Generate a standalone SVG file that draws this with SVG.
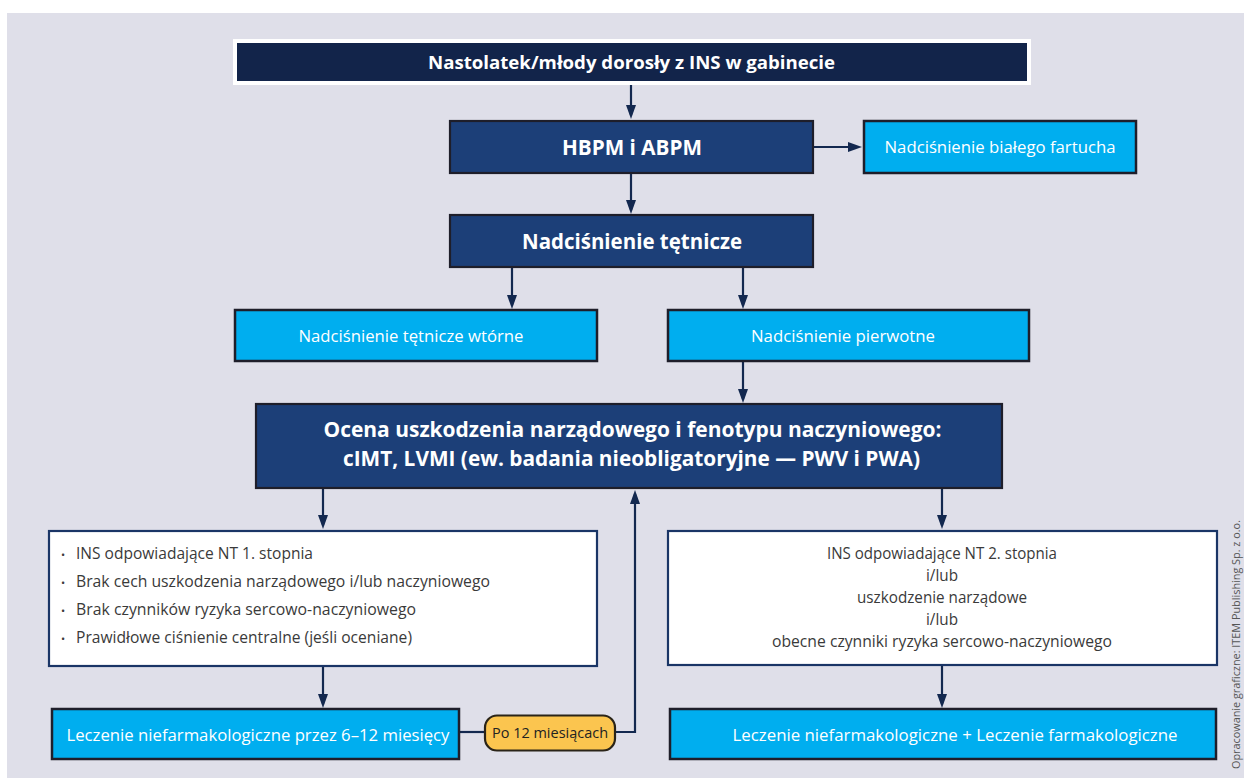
<svg xmlns="http://www.w3.org/2000/svg" width="1244" height="778" viewBox="0 0 1244 778">
<style>
.t{font-family:"Open Sans","Liberation Sans",sans-serif;text-anchor:middle}
.b{font-weight:bold;fill:#ffffff}
.w{fill:#ffffff;font-size:17px}
.g{fill:#3a3a3a;font-size:15.5px}
.dark{fill:#1c3f78;stroke:#1e1e2a;stroke-width:2.2}
.lb{fill:#00aeef;stroke:#1e1e2a;stroke-width:2.5}
.wb{fill:#ffffff;stroke:#1a3566;stroke-width:2.2}
.c{stroke:#13284f;stroke-width:2.2;fill:none}
</style>
<defs>
<marker id="ah" viewBox="0 0 14 10" refX="10" refY="5" markerWidth="14" markerHeight="10" markerUnits="userSpaceOnUse" orient="auto">
<path d="M0,0 L14,5 L0,10 z" fill="#13284f"/>
</marker>
</defs>
<rect x="7" y="13" width="1237" height="765" fill="#dfdfe9"/>

<g id="connectors">
<line class="c" x1="631" y1="85" x2="631" y2="115" marker-end="url(#ah)"/>
<line class="c" x1="631" y1="173" x2="631" y2="210" marker-end="url(#ah)"/>
<line class="c" x1="813" y1="147" x2="858" y2="147" marker-end="url(#ah)"/>
<line class="c" x1="512" y1="267" x2="512" y2="305" marker-end="url(#ah)"/>
<line class="c" x1="743" y1="267" x2="743" y2="305" marker-end="url(#ah)"/>
<line class="c" x1="743" y1="361" x2="743" y2="399" marker-end="url(#ah)"/>
<line class="c" x1="323" y1="488" x2="323" y2="525" marker-end="url(#ah)"/>
<line class="c" x1="942" y1="488" x2="942" y2="525" marker-end="url(#ah)"/>
<line class="c" x1="323" y1="666" x2="323" y2="704" marker-end="url(#ah)"/>
<line class="c" x1="942" y1="666" x2="942" y2="704" marker-end="url(#ah)"/>
<line class="c" x1="459" y1="732" x2="486" y2="732"/>
<polyline class="c" points="614,732 635,732 635,494" marker-end="url(#ah)"/>
</g>

<g id="start">
<rect x="235" y="41" width="794" height="42" fill="#12244a" stroke="#ffffff" stroke-width="4"/>
<text class="t b" x="631.5" y="69" font-size="18" textLength="407" lengthAdjust="spacingAndGlyphs">Nastolatek/młody dorosły z INS w gabinecie</text>
</g>

<g id="hbpm">
<rect class="dark" x="450" y="121" width="363" height="52"/>
<text class="t b" x="632" y="155" font-size="21" textLength="140" lengthAdjust="spacingAndGlyphs">HBPM i ABPM</text>
</g>

<g id="white-coat">
<rect class="lb" x="864" y="121" width="272" height="52"/>
<text class="t w" x="1000" y="153" textLength="231" lengthAdjust="spacingAndGlyphs">Nadciśnienie białego fartucha</text>
</g>

<g id="nt">
<rect class="dark" x="450" y="215" width="363" height="52"/>
<text class="t b" x="632" y="249" font-size="21" textLength="220" lengthAdjust="spacingAndGlyphs">Nadciśnienie tętnicze</text>
</g>

<g id="secondary">
<rect class="lb" x="235" y="310" width="362" height="51"/>
<text class="t w" x="411" y="341.5" textLength="225" lengthAdjust="spacingAndGlyphs">Nadciśnienie tętnicze wtórne</text>
</g>

<g id="primary">
<rect class="lb" x="668" y="310" width="361" height="51"/>
<text class="t w" x="843" y="341.5" textLength="184" lengthAdjust="spacingAndGlyphs">Nadciśnienie pierwotne</text>
</g>

<g id="assessment">
<rect class="dark" x="256" y="404" width="746" height="84"/>
<text class="t b" x="632.5" y="437" font-size="21" textLength="618" lengthAdjust="spacingAndGlyphs">Ocena uszkodzenia narządowego i fenotypu naczyniowego:</text>
<text class="t b" x="631.5" y="466" font-size="21" textLength="577" lengthAdjust="spacingAndGlyphs">cIMT, LVMI (ew. badania nieobligatoryjne — PWV i PWA)</text>
</g>

<g id="grade1">
<rect class="wb" x="49" y="531" width="548" height="135"/>
<g class="g" font-family="Open Sans, Liberation Sans, sans-serif">
<text x="61" y="559" font-size="11" fill="#3a3a3a">•</text>
<text x="61" y="587" font-size="11" fill="#3a3a3a">•</text>
<text x="61" y="615" font-size="11" fill="#3a3a3a">•</text>
<text x="61" y="643" font-size="11" fill="#3a3a3a">•</text>
<text x="76" y="559" textLength="237" lengthAdjust="spacingAndGlyphs">INS odpowiadające NT 1. stopnia</text>
<text x="76" y="587" textLength="414" lengthAdjust="spacingAndGlyphs">Brak cech uszkodzenia narządowego i/lub naczyniowego</text>
<text x="76" y="615" textLength="340" lengthAdjust="spacingAndGlyphs">Brak czynników ryzyka sercowo-naczyniowego</text>
<text x="76" y="643" textLength="336" lengthAdjust="spacingAndGlyphs">Prawidłowe ciśnienie centralne (jeśli oceniane)</text>
</g>
</g>

<g id="grade2">
<rect class="wb" x="668" y="531" width="549" height="134"/>
<text class="t g" x="942" y="559" textLength="230" lengthAdjust="spacingAndGlyphs">INS odpowiadające NT 2. stopnia</text>
<text class="t g" x="942" y="581" textLength="32" lengthAdjust="spacingAndGlyphs">i/lub</text>
<text class="t g" x="942" y="603" textLength="170" lengthAdjust="spacingAndGlyphs">uszkodzenie narządowe</text>
<text class="t g" x="942" y="625" textLength="32" lengthAdjust="spacingAndGlyphs">i/lub</text>
<text class="t g" x="942" y="647" textLength="340" lengthAdjust="spacingAndGlyphs">obecne czynniki ryzyka sercowo-naczyniowego</text>
</g>

<g id="nonpharm">
<rect class="lb" x="52" y="709" width="407" height="50"/>
<text class="t w" x="258" y="741" font-size="18" textLength="383" lengthAdjust="spacingAndGlyphs">Leczenie niefarmakologiczne przez 6–12 miesięcy</text>
</g>

<g id="after12">
<rect x="485" y="715.5" width="130" height="35" rx="12" ry="12" fill="#fbc54f" stroke="#2a2418" stroke-width="2.2"/>
<text class="t" x="550" y="737.5" font-size="15" fill="#222222" textLength="116" lengthAdjust="spacingAndGlyphs">Po 12 miesiącach</text>
</g>

<g id="pharm">
<rect class="lb" x="670" y="709" width="546" height="50"/>
<text class="t w" x="955" y="741" font-size="18" textLength="445" lengthAdjust="spacingAndGlyphs">Leczenie niefarmakologiczne + Leczenie farmakologiczne</text>
</g>

<text transform="translate(1240,769) rotate(-90)" font-family="Open Sans, Liberation Sans, sans-serif" font-size="10.5" fill="#555555" textLength="249" lengthAdjust="spacingAndGlyphs">Opracowanie graficzne: ITEM Publishing Sp. z o.o.</text>
</svg>
